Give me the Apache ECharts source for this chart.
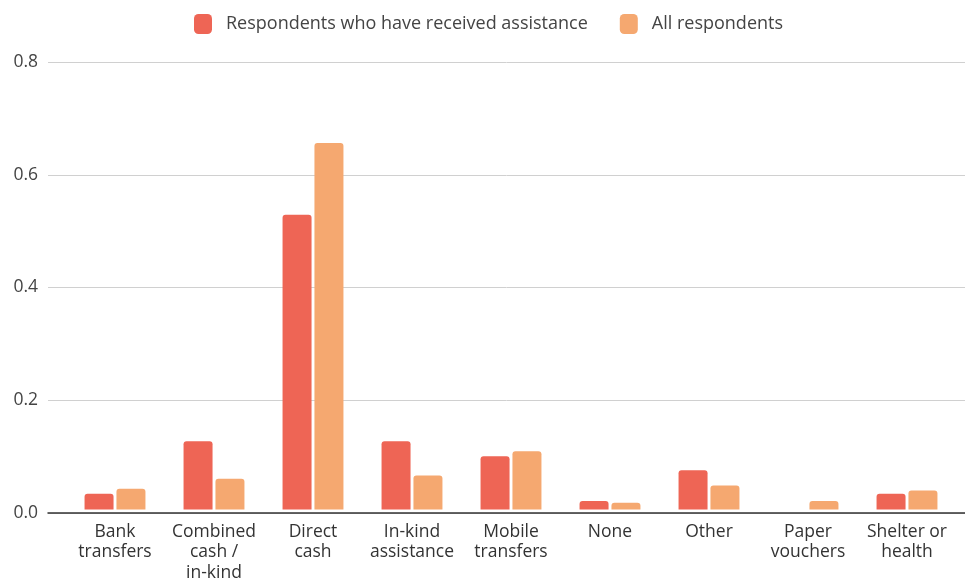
<!DOCTYPE html>
<html>
<head>
<meta charset="utf-8">
<script src="https://cdn.jsdelivr.net/npm/echarts@6/dist/echarts.min.js"></script>
<style>html,body{margin:0;padding:0;background:#fff;}#c{width:965px;height:583px;}</style>
</head>
<body>
<div id="c"></div>
<script>
const categories = ["Bank transfers","Combined cash / in-kind","Direct cash","In-kind assistance","Mobile transfers","None","Other","Paper vouchers","Shelter or health"];
const tickLabels = ["Bank\ntransfers","Combined\ncash /\nin-kind","Direct\ncash","In-kind\nassistance","Mobile\ntransfers","None","Other","Paper\nvouchers","Shelter or\nhealth"];
const seriesNames = ["Respondents who have received assistance","All respondents"];
const received = [0.028,0.122,0.527,0.122,0.095,0.015,0.070,0,0.028];
const allResp = [0.037,0.055,0.655,0.061,0.104,0.012,0.043,0.015,0.034];
const yTicks = [0,0.2,0.4,0.6,0.8];

const font = "Open Sans";
const chart = echarts.init(document.getElementById('c'));
const barStyle = (c) => ({color: c, borderRadius: [3,3,0,0]});
chart.setOption({
  animation: false,
  textStyle: {fontFamily: font},
  legend: {
    top: 9, left: 189,
    icon: 'roundRect', itemWidth: 18, itemHeight: 20, itemGap: 32,
    textStyle: {fontFamily: font, fontSize: 18, color: '#444', padding: [0,0,0,9]},
    data: seriesNames
  },
  grid: [
    {left: 48, right: 0, top: 62, bottom: 70},
    {left: 65.5, right: 8.5, top: 62, bottom: 70}
  ],
  xAxis: [
    {gridIndex: 0, type: 'category', data: categories,
     axisLine: {lineStyle: {color: '#333', width: 1.5}}, axisTick: {show: false}, axisLabel: {show: false}},
    {gridIndex: 1, type: 'category', data: categories,
     axisLine: {show: false}, axisTick: {show: false},
     axisLabel: {interval: 0, margin: 12, fontFamily: font, fontSize: 17.5, color: '#333', lineHeight: 20.5,
       formatter: (v, i) => tickLabels[i]}}
  ],
  yAxis: [
    {gridIndex: 0, type: 'value', min: yTicks[0], max: yTicks[yTicks.length-1], interval: 0.2,
     axisLabel: {margin: 10, fontFamily: font, fontSize: 17.5, color: '#444', formatter: v => v.toFixed(1)},
     axisLine: {show: false}, axisTick: {show: false},
     splitLine: {lineStyle: {color: '#d0d0d0', width: 1}}},
    {gridIndex: 1, type: 'value', min: 0, max: 0.8, show: false}
  ],
  series: [
    {name: seriesNames[0], type: 'bar', xAxisIndex: 1, yAxisIndex: 1, data: received,
     barWidth: 29, barGap: '10%', itemStyle: barStyle('#ee6555')},
    {name: seriesNames[1], type: 'bar', xAxisIndex: 1, yAxisIndex: 1, data: allResp,
     barWidth: 29, barGap: '10%', itemStyle: barStyle('#f5a870')}
  ]
});
</script>
</body>
</html>
